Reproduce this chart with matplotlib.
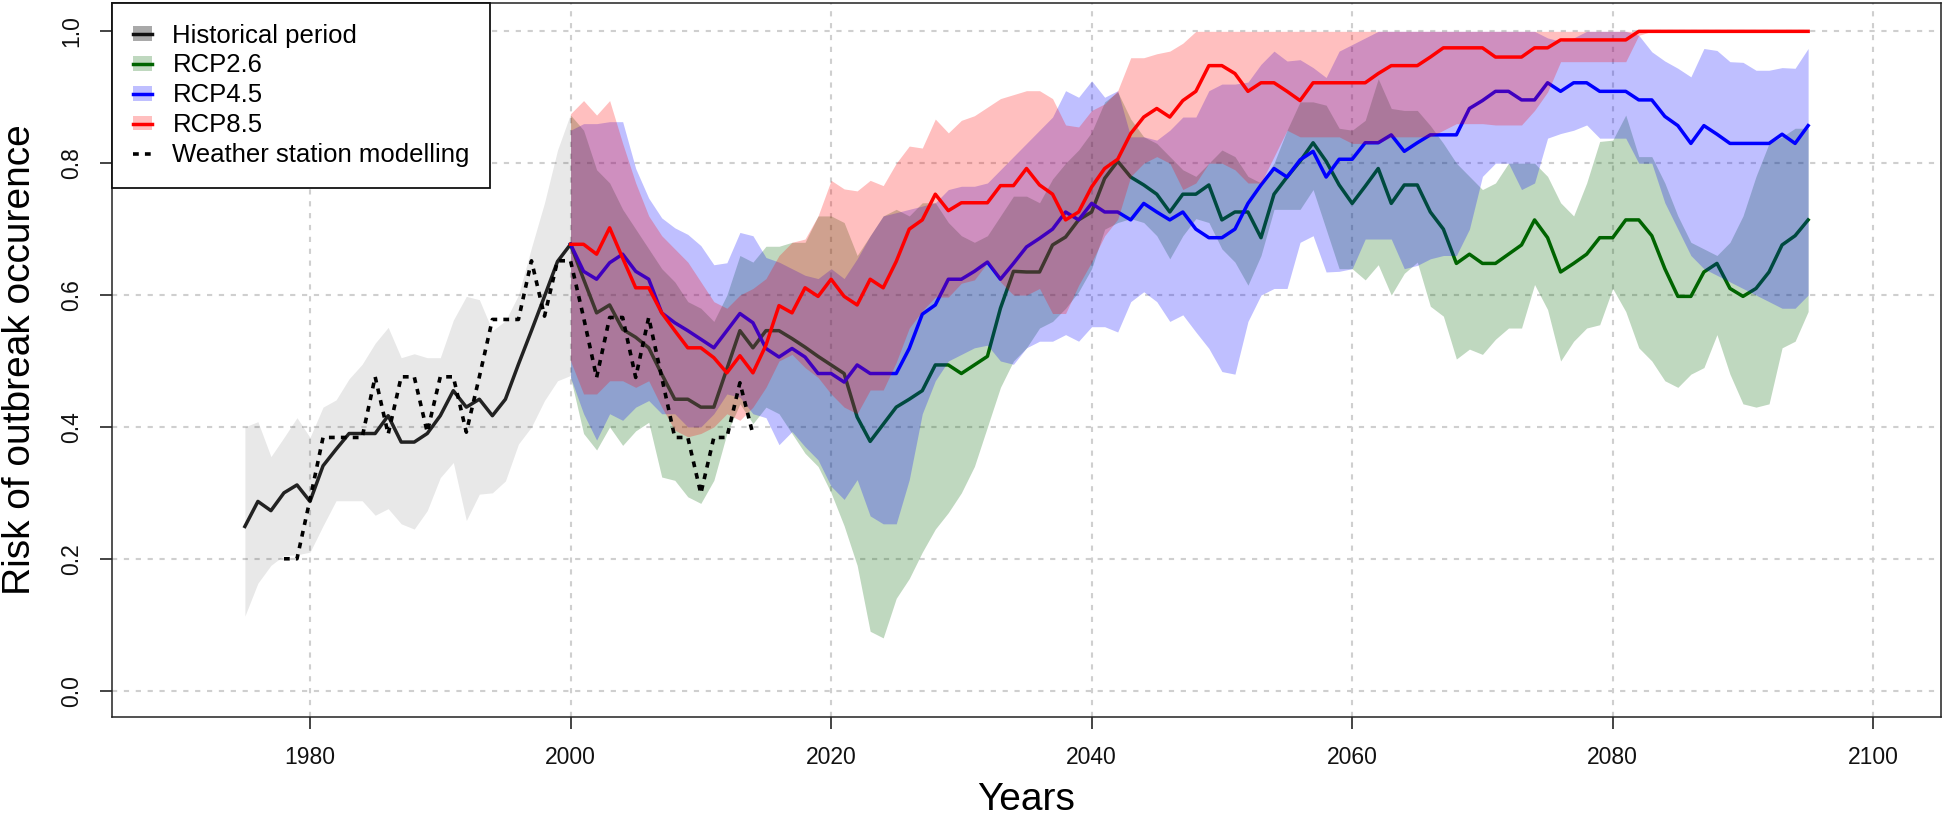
import matplotlib
matplotlib.use("Agg")
import matplotlib.pyplot as plt
from matplotlib.patches import Patch
from matplotlib.lines import Line2D
from matplotlib.legend_handler import HandlerTuple

plt.rcParams['font.family'] = ['Liberation Sans', 'DejaVu Sans']

# ---------------- data ----------------
years_hist = list(range(1975, 2001))
hist_line = [.249, .287, .273, .300, .312, .287, .341, .366, .390, .390,
             .390, .417, .377, .377, .390, .417, .455, .430, .442, .417,
             .442, .495, .546, .598, .651, .677]
hist_hi = [.400, .408, .355, .384, .414, .384, .430, .441, .473, .495,
           .527, .551, .505, .511, .505, .505, .562, .598, .593, .546,
           .561, .600, .672, .740, .820, .875]
hist_lo = [.113, .163, .190, .205, .206, .210, .250, .288, .288, .288,
           .266, .276, .253, .245, .273, .323, .346, .258, .298, .300,
           .318, .374, .400, .440, .470, .478]

years_ws = list(range(1978, 2015))
ws_line = [.200, .200, .290, .384, .384, .384, .384, .476, .389, .476,
           .476, .392, .476, .476, .392, .476, .563, .563, .563, .652,
           .568, .652, .652, .566, .475, .566, .566, .475, .566, .475,
           .384, .384, .299, .384, .384, .467, .389]

years_rcp = list(range(2000, 2096))

rcp85_line = [.677, .677, .662, .702, .656, .611, .611, .573, .546, .520,
              .520, .505, .482, .508, .482, .524, .584, .573, .611, .598,
              .624, .598, .585, .624, .611, .651, .700, .714, .753, .728,
              .740, .740, .740, .766, .766, .792, .767, .753, .714, .726,
              .764, .792, .806, .845, .870, .883, .870, .895, .909, .948,
              .948, .936, .909, .922, .922, .909, .895, .922, .922, .922,
              .922, .922, .936, .948, .948, .948, .961, .975, .975, .975,
              .975, .961, .961, .961, .975, .975, .987, .987, .987, .987,
              .987, .987, 1, 1, 1, 1, 1, 1, 1, 1,
              1, 1, 1, 1, 1, 1]
rcp85_hi = [.875, .895, .873, .895, .830, .770, .720, .690, .670, .650,
            .620, .590, .580, .600, .610, .625, .660, .680, .685, .720,
            .774, .761, .758, .774, .766, .800, .826, .823, .867, .846,
            .865, .872, .885, .898, .904, .910, .910, .898, .858, .855,
            .880, .890, .910, .960, .960, .966, .970, .982, 1, 1,
            1, 1, 1, 1, 1, 1, 1, 1, 1, 1,
            1, 1, 1, 1, 1, 1, 1, 1, 1, 1,
            1, 1, 1, 1, 1, 1, 1, 1, 1, 1,
            1, 1, 1, 1, 1, 1, 1, 1, 1, 1,
            1, 1, 1, 1, 1, 1]
rcp85_lo = [.500, .450, .450, .470, .470, .460, .470, .430, .395, .385,
            .390, .400, .420, .410, .430, .460, .500, .510, .490, .475,
            .450, .430, .420, .456, .456, .498, .550, .576, .597, .597,
            .618, .623, .649, .620, .600, .600, .610, .572, .572, .615,
            .650, .690, .715, .780, .800, .810, .800, .760, .770, .800,
            .800, .790, .770, .770, .810, .850, .840, .840, .840, .840,
            .830, .830, .830, .840, .840, .840, .840, .850, .860, .860,
            .860, .858, .858, .858, .880, .908, .954, .954, .954, .954,
            .954, .954, .994, 1, 1, 1, 1, 1, 1, 1,
            1, 1, 1, 1, 1, 1]

rcp45_line = [.677, .636, .624, .649, .662, .636, .624, .573, .558, .546,
              .533, .520, .546, .572, .558, .519, .506, .519, .506, .481,
              .481, .468, .494, .481, .481, .481, .519, .571, .585, .624,
              .624, .636, .650, .624, .648, .673, .686, .700, .726, .714,
              .739, .726, .726, .714, .739, .726, .714, .726, .700, .687,
              .687, .700, .739, .767, .792, .779, .805, .818, .779, .806,
              .806, .831, .831, .843, .818, .831, .843, .843, .843, .883,
              .895, .909, .909, .896, .896, .922, .909, .922, .922, .909,
              .909, .909, .896, .896, .871, .857, .830, .857, .844, .830,
              .830, .830, .830, .844, .830, .857]
rcp45_hi = [.850, .860, .860, .863, .863, .792, .747, .717, .702, .692,
            .675, .646, .649, .695, .690, .657, .650, .640, .630, .625,
            .640, .625, .655, .690, .720, .725, .730, .735, .740, .760,
            .765, .765, .770, .790, .810, .830, .850, .870, .910, .900,
            .925, .900, .910, .840, .840, .835, .850, .870, .870, .910,
            .920, .920, .923, .950, .970, .955, .957, .945, .930, .970,
            .980, .990, 1, 1, 1, 1, 1, 1, 1, 1,
            1, 1, 1, 1, 1, .990, .985, .990, 1, 1,
            1, 1, .994, .969, .955, .944, .931, .974, .971, .954,
            .953, .941, .941, .945, .944, .974]
rcp45_lo = [.475, .420, .380, .420, .410, .430, .440, .420, .420, .400,
            .400, .420, .450, .445, .420, .414, .373, .393, .370, .350,
            .310, .290, .320, .265, .253, .253, .320, .420, .470, .500,
            .510, .520, .524, .500, .495, .520, .530, .530, .540, .530,
            .552, .552, .544, .590, .605, .590, .560, .570, .544, .519,
            .484, .480, .560, .600, .610, .610, .680, .690, .635, .636,
            .640, .685, .685, .685, .640, .645, .655, .660, .660, .700,
            .780, .800, .800, .760, .770, .838, .845, .850, .858, .838,
            .838, .838, .800, .800, .740, .700, .660, .640, .630, .620,
            .610, .600, .590, .580, .580, .600]

rcp26_line = [.677, .624, .573, .585, .548, .536, .520, .480, .442, .442,
              .430, .430, .488, .546, .520, .546, .546, .534, .521, .507,
              .494, .481, .415, .378, .404, .430, .442, .455, .494, .494,
              .481, .494, .507, .580, .636, .635, .635, .676, .688, .714,
              .726, .777, .803, .779, .767, .753, .726, .753, .753, .767,
              .714, .726, .726, .687, .753, .779, .803, .831, .803, .767,
              .739, .765, .792, .739, .767, .767, .726, .700, .648, .662,
              .648, .648, .662, .676, .714, .687, .635, .648, .662, .687,
              .687, .714, .714, .690, .640, .598, .598, .635, .648, .610,
              .598, .610, .635, .676, .690, .714]
rcp26_hi = [.873, .850, .790, .770, .730, .700, .670, .640, .620, .590,
            .580, .560, .600, .660, .650, .674, .674, .680, .680, .720,
            .720, .710, .660, .690, .720, .730, .720, .740, .740, .710,
            .690, .680, .690, .720, .750, .750, .740, .776, .800, .820,
            .847, .893, .908, .867, .840, .830, .810, .790, .780, .800,
            .820, .810, .780, .770, .800, .850, .893, .893, .888, .853,
            .850, .865, .928, .883, .880, .880, .857, .830, .800, .780,
            .760, .770, .800, .800, .800, .780, .740, .720, .770, .833,
            .835, .873, .810, .810, .770, .720, .680, .670, .660, .680,
            .720, .780, .830, .840, .853, .853]
rcp26_lo = [.475, .390, .365, .400, .372, .394, .407, .324, .319, .294,
            .284, .319, .390, .435, .405, .430, .420, .390, .360, .340,
            .300, .250, .190, .090, .080, .140, .170, .210, .245, .270,
            .300, .340, .400, .460, .500, .520, .550, .560, .580, .605,
            .640, .700, .710, .716, .710, .690, .655, .690, .716, .710,
            .670, .650, .615, .660, .730, .730, .730, .760, .700, .640,
            .640, .623, .646, .600, .633, .650, .583, .568, .503, .518,
            .510, .533, .550, .550, .616, .578, .500, .530, .550, .555,
            .610, .575, .520, .500, .470, .460, .480, .490, .540, .480,
            .435, .430, .435, .520, .530, .575]

xticks = [1980, 2000, 2020, 2040, 2060, 2080, 2100]
yticks = [0.0, 0.2, 0.4, 0.6, 0.8, 1.0]
ytick_labels = ['0.0', '0.2', '0.4', '0.6', '0.8', '1.0']
legend_labels = ['Historical period', 'RCP2.6', 'RCP4.5', 'RCP8.5',
                 'Weather station modelling']

# ---------------- styling ----------------
C_GREEN = '#006400'
C_BLUE = '#0000ff'
C_RED = '#ff0000'
FILL_A = 0.25
LW = 2.5

fig = plt.figure(figsize=(19.44, 8.16), dpi=100)
ax = fig.add_axes([112 / 1944, 1 - 717 / 816, (1941 - 112) / 1944, (717 - 3) / 816])

ax.set_xlim(1964.8, 2105.2)
ax.set_ylim(-0.04, 1.043)

ax.grid(True, color='#cfcfcf', linestyle=(0, (2.5, 3.2)), linewidth=1.5)
ax.set_axisbelow(True)

# historical
ax.fill_between(years_hist, hist_lo, hist_hi, color='black', alpha=0.09,
                linewidth=0, zorder=1)
ax.plot(years_hist, hist_line, color='#222222', lw=LW, zorder=2)

# RCP2.6
ax.fill_between(years_rcp, rcp26_lo, rcp26_hi, color=C_GREEN, alpha=FILL_A,
                linewidth=0, zorder=3)
ax.plot(years_rcp, rcp26_line, color=C_GREEN, lw=LW, zorder=4)
# RCP4.5
ax.fill_between(years_rcp, rcp45_lo, rcp45_hi, color=C_BLUE, alpha=FILL_A,
                linewidth=0, zorder=5)
ax.plot(years_rcp, rcp45_line, color=C_BLUE, lw=LW, zorder=6)
# RCP8.5
ax.fill_between(years_rcp, rcp85_lo, rcp85_hi, color=C_RED, alpha=FILL_A,
                linewidth=0, zorder=7)
ax.plot(years_rcp, rcp85_line, color=C_RED, lw=LW, zorder=8)

# weather station
ax.plot(years_ws, ws_line, color='black', lw=2.6, linestyle=(0, (1.6, 1.7)),
        dash_capstyle='butt', zorder=9)

# axes
ax.set_xticks(xticks)
ax.set_xticklabels([str(x) for x in xticks])
ax.set_yticks(yticks)
ax.set_yticklabels(ytick_labels, rotation=90, va='center')
ax.tick_params(axis='both', direction='out', length=8.6, width=1.1,
               labelsize=16.5, pad=12, colors='#111111')
for s in ax.spines.values():
    s.set_linewidth(1.1)
    s.set_color('#222222')

ax.set_xlabel('Years', fontsize=28, labelpad=10)
ax.set_ylabel('Risk of outbreak occurence', fontsize=28, labelpad=16)

# legend
handles = [
    (Patch(facecolor='#a9a9a9', edgecolor='none'), Line2D([], [], color='#111111', lw=LW)),
    (Patch(facecolor=C_GREEN, alpha=FILL_A, edgecolor='none'), Line2D([], [], color=C_GREEN, lw=LW)),
    (Patch(facecolor=C_BLUE, alpha=FILL_A, edgecolor='none'), Line2D([], [], color=C_BLUE, lw=LW)),
    (Patch(facecolor=C_RED, alpha=FILL_A, edgecolor='none'), Line2D([], [], color=C_RED, lw=LW)),
    Line2D([], [], color='black', lw=2.6, linestyle=(0, (1.6, 1.7))),
]
leg = ax.legend(handles, legend_labels, loc='upper left', borderaxespad=0,
                fontsize=18.5, handlelength=0.75, handleheight=0.5,
                handletextpad=0.8, borderpad=0.8, labelspacing=0.23,
                fancybox=False, framealpha=1, edgecolor='#111111',
                handler_map={tuple: HandlerTuple(ndivide=1, pad=0)})
leg.get_frame().set_linewidth(1.3)
leg.set_zorder(20)

fig.savefig('out.png', dpi=100)
